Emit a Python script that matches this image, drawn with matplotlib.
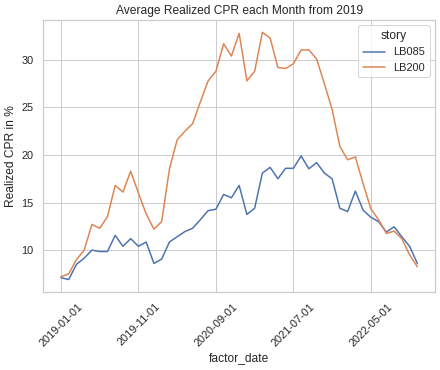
import matplotlib
matplotlib.use("Agg")
import matplotlib.pyplot as plt
import matplotlib.ticker as ticker
import pandas as pd
import seaborn as sns

factor_date = [
    "2019-01-01", "2019-02-01", "2019-03-01", "2019-04-01", "2019-05-01", "2019-06-01",
    "2019-07-01", "2019-08-01", "2019-09-01", "2019-10-01", "2019-11-01", "2019-12-01",
    "2020-01-01", "2020-02-01", "2020-03-01", "2020-04-01", "2020-05-01", "2020-06-01",
    "2020-07-01", "2020-08-01", "2020-09-01", "2020-10-01", "2020-11-01", "2020-12-01",
    "2021-01-01", "2021-02-01", "2021-03-01", "2021-04-01", "2021-05-01", "2021-06-01",
    "2021-07-01", "2021-08-01", "2021-09-01", "2021-10-01", "2021-11-01", "2021-12-01",
    "2022-01-01", "2022-02-01", "2022-03-01", "2022-04-01", "2022-05-01", "2022-06-01",
    "2022-07-01", "2022-08-01", "2022-09-01", "2022-10-01", "2022-11-01",
]

lb085 = [
    7.1, 6.9, 8.5, 9.15, 10.0, 9.85, 9.85, 11.55, 10.4, 11.2, 10.4, 10.85,
    8.6, 9.05, 10.85, 11.4, 11.95, 12.3, 13.2, 14.15, 14.3, 15.85, 15.5, 16.8,
    13.75, 14.4, 18.1, 18.7, 17.5, 18.6, 18.6, 19.9, 18.55, 19.2, 18.1, 17.5,
    14.4, 14.05, 16.2, 14.2, 13.45, 13.0, 11.9, 12.45, 11.4, 10.4, 8.6,
]

lb200 = [
    7.2, 7.5, 9.0, 10.0, 12.7, 12.3, 13.5, 16.8, 16.1, 18.3, 16.0, 13.8,
    12.2, 13.0, 18.5, 21.6, 22.5, 23.3, 25.6, 27.8, 28.8, 31.7, 30.4, 32.8,
    27.8, 28.8, 32.9, 32.3, 29.2, 29.1, 29.6, 31.05, 31.05, 30.1, 27.5, 24.8,
    20.9, 19.5, 19.8, 17.0, 14.35, 13.2, 11.75, 12.0, 11.2, 9.5, 8.25,
]

stories = ["LB085", "LB200"]

df = pd.DataFrame({"factor_date": factor_date, "LB085": lb085, "LB200": lb200})
long = df.melt(id_vars="factor_date", value_vars=stories,
               var_name="story", value_name="cpr")

sns.set_theme(style="whitegrid")
plt.rcParams["font.family"] = ["Liberation Sans", "DejaVu Sans"]

fig, ax = plt.subplots(figsize=(440 / 72, 370 / 72), dpi=72)
fig.subplots_adjust(left=0.098, right=0.989, top=0.946, bottom=0.211)

sns.lineplot(data=long, x="factor_date", y="cpr", hue="story", ax=ax)

ax.xaxis.set_major_locator(ticker.MultipleLocator(10))
plt.setp(ax.get_xticklabels(), rotation=45)
ax.set_title("Average Realized CPR each Month from 2019")
ax.set_xlabel("factor_date")
ax.set_ylabel("Realized CPR in %")
ax.legend(title="story", loc="upper right")

fig.savefig("out.png", dpi=72)
